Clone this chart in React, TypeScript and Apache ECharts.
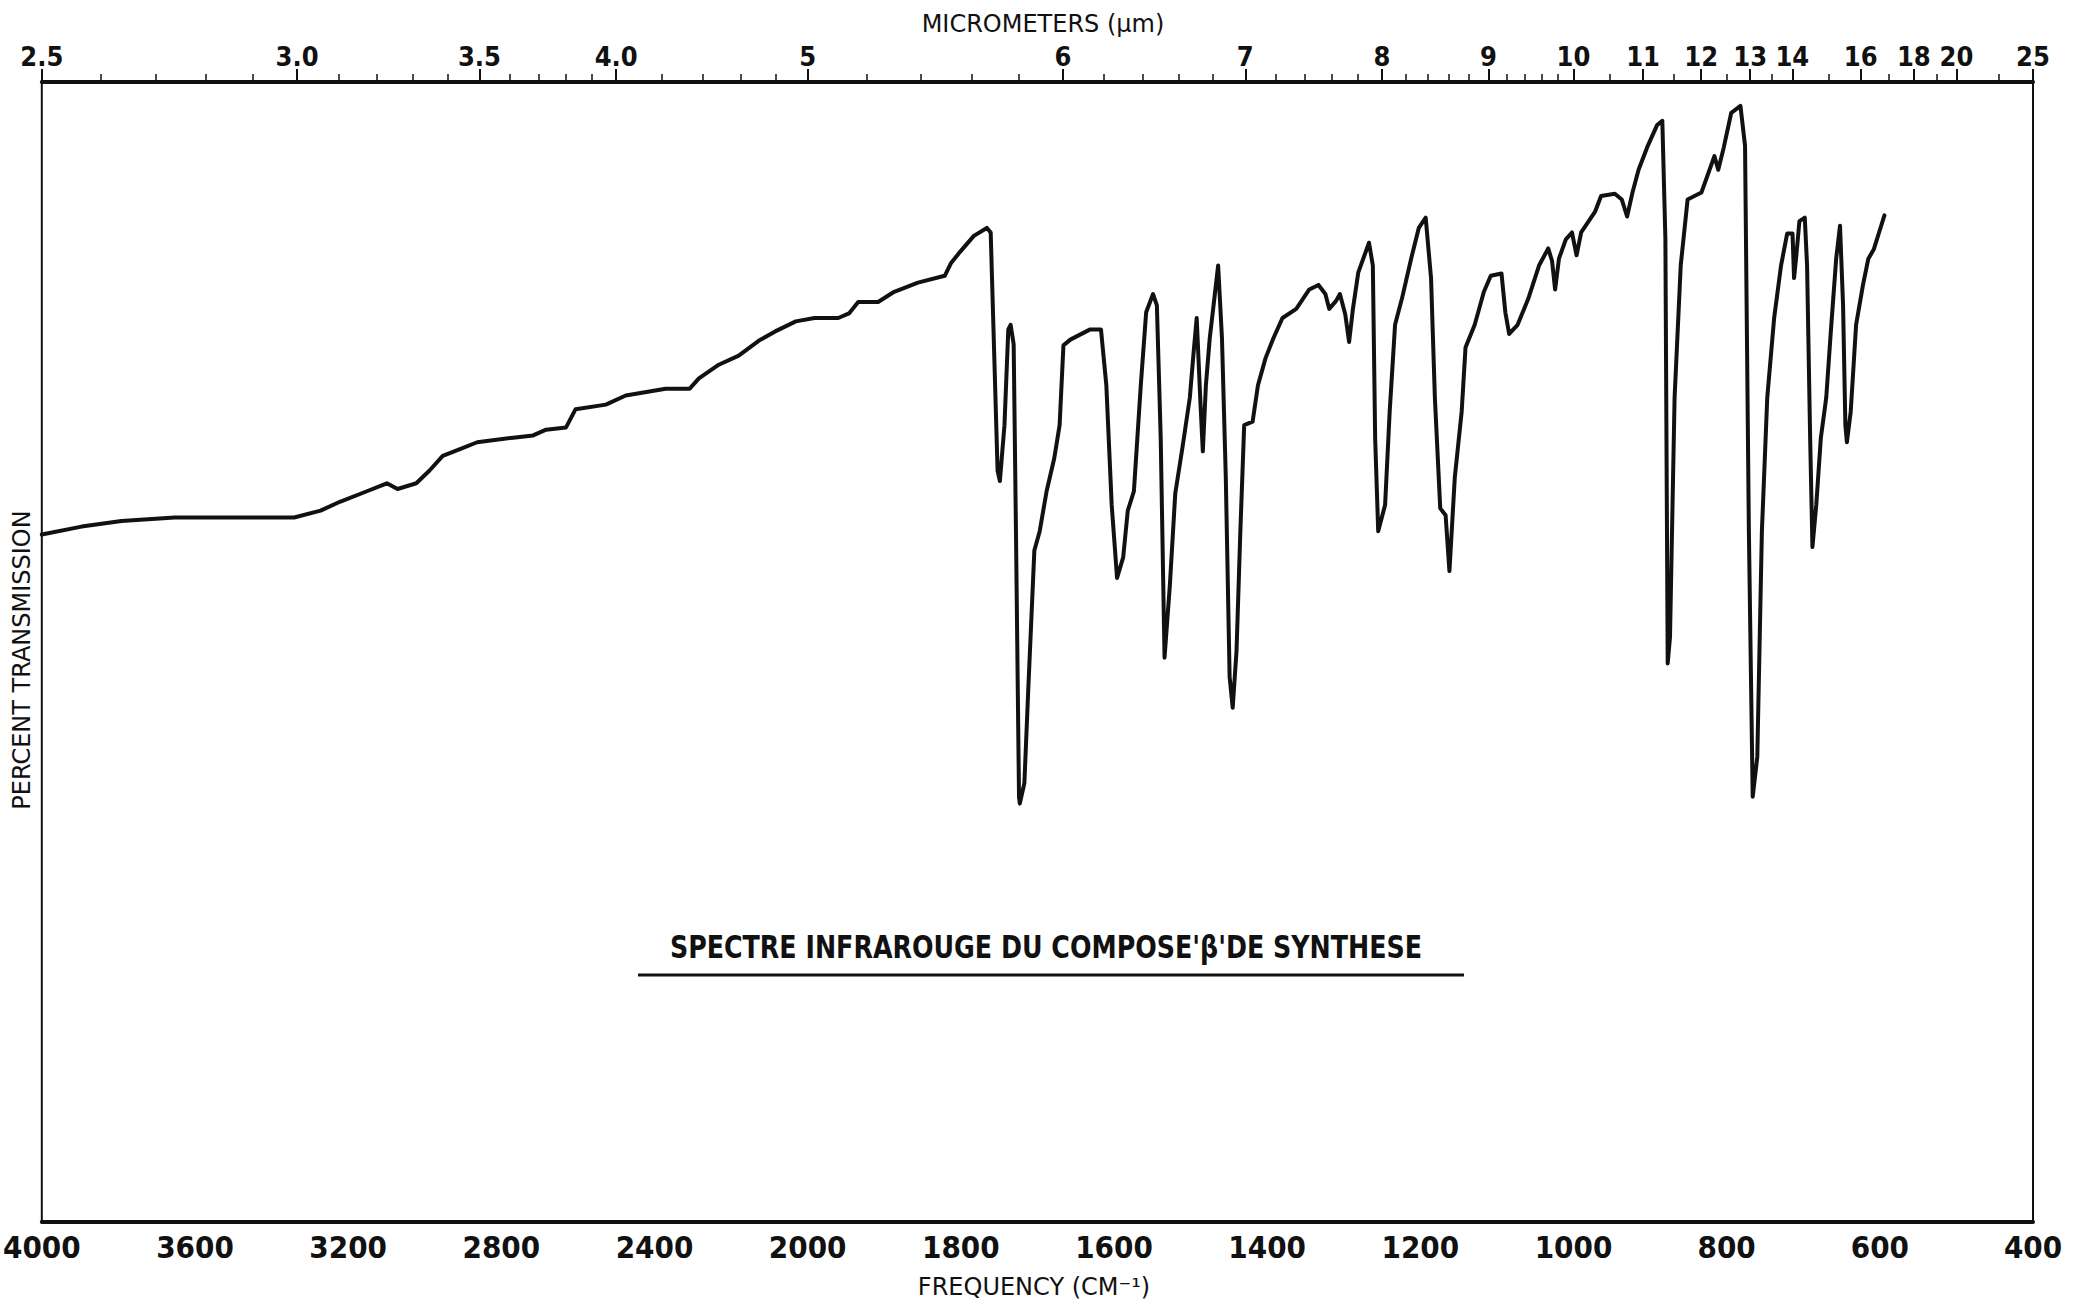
import React, { useEffect, useRef } from "react";
import * as echarts from "echarts";

// Spectrum: wavenumber (cm-1) and percent transmission
const WAVENUMBERS = [
  4000, 3896, 3792, 3653, 3480, 3341, 3272, 3220, 3151, 3099, 3071, 3022, 2988, 2953, 2908, 2863,
  2769, 2717, 2683, 2631, 2606, 2527, 2475, 2371, 2308, 2284, 2232, 2180, 2128, 2086, 2031, 1991,
  1960, 1946, 1934, 1908, 1887, 1856, 1821, 1813, 1801, 1783, 1766, 1761, 1752, 1749, 1743, 1738,
  1735, 1731, 1728, 1724, 1723, 1717, 1712, 1704, 1697, 1688, 1678, 1671, 1666, 1657, 1631, 1617,
  1610, 1603, 1596, 1588, 1582, 1574, 1565, 1558, 1549, 1544, 1539, 1534, 1527, 1520, 1510, 1501,
  1496, 1492, 1487, 1484, 1480, 1475, 1470, 1464, 1459, 1454, 1449, 1445, 1440, 1435, 1430, 1419,
  1412, 1402, 1392, 1380, 1362, 1345, 1333, 1324, 1319, 1310, 1305, 1298, 1293, 1288, 1281, 1267,
  1262, 1259, 1255, 1246, 1240, 1233, 1224, 1212, 1202, 1193, 1186, 1181, 1174, 1167, 1162, 1155,
  1146, 1141, 1129, 1117, 1108, 1094, 1089, 1084, 1073, 1059, 1045, 1033, 1028, 1024, 1019, 1010,
  1002, 996, 990, 972, 964, 946, 937, 930, 923, 915, 903, 891, 884, 880, 877, 874,
  868, 860, 851, 833, 825, 816, 811, 804, 794, 782, 776, 771, 766, 760, 754, 747,
  738, 729, 721, 714, 712, 709, 705, 698, 695, 691, 688, 683, 677, 670, 664, 657,
  652, 648, 645, 643, 638, 631, 622, 615, 608, 601, 594,
];
const TRANSMISSION = [
  60.3, 61.0, 61.5, 61.8, 61.8, 61.8, 62.4, 63.2, 64.1, 64.8, 64.3, 64.8, 65.9, 67.2, 67.8, 68.4,
  68.8, 69.0, 69.5, 69.7, 71.3, 71.7, 72.5, 73.1, 73.1, 74.0, 75.2, 76.0, 77.3, 78.1, 79.0, 79.3,
  79.3, 79.7, 80.7, 80.7, 81.6, 82.4, 83.0, 84.1, 85.1, 86.5, 87.2, 86.8, 65.9, 65.0, 69.9, 78.3,
  78.7, 77.0, 60.6, 37.3, 36.7, 38.5, 46.6, 58.9, 60.6, 64.1, 67.0, 69.9, 76.9, 77.4, 78.3, 78.3,
  73.4, 62.9, 56.5, 58.3, 62.4, 64.1, 73.4, 79.8, 81.4, 80.4, 68.8, 49.5, 55.9, 63.9, 68.2, 72.3,
  76.3, 79.3, 71.7, 67.6, 73.4, 77.5, 80.4, 83.9, 77.5, 65.3, 47.8, 45.1, 50.1, 60.6, 69.9, 70.2,
  73.4, 75.8, 77.5, 79.3, 80.1, 81.8, 82.2, 81.4, 80.1, 80.8, 81.4, 79.6, 77.2, 80.1, 83.3, 85.9,
  83.9, 68.8, 60.6, 62.9, 71.1, 78.7, 81.0, 84.5, 87.2, 88.1, 82.8, 72.3, 62.6, 62.0, 57.1, 65.3,
  71.1, 76.7, 78.7, 81.6, 83.0, 83.2, 79.8, 77.9, 78.7, 81.0, 83.9, 85.4, 84.3, 81.8, 84.5, 86.2,
  86.8, 84.8, 86.8, 88.6, 90.0, 90.2, 89.7, 88.2, 90.3, 92.3, 94.4, 96.2, 96.6, 86.2, 49.0, 51.3,
  72.3, 83.9, 89.7, 90.3, 91.8, 93.5, 92.3, 94.2, 97.3, 97.9, 94.4, 60.6, 37.3, 40.8, 60.6, 72.3,
  79.3, 83.9, 86.7, 86.7, 82.8, 84.8, 87.8, 88.1, 83.9, 68.8, 59.2, 62.9, 68.8, 72.3, 78.1, 84.5,
  87.4, 80.4, 69.9, 68.4, 71.1, 78.7, 82.2, 84.5, 85.3, 86.8, 88.3,
];

// Bottom axis tick labels (cm-1) and top axis (micrometers)
const FREQ_TICKS = [4000, 3600, 3200, 2800, 2400, 2000, 1800, 1600, 1400, 1200, 1000, 800, 600, 400];
const MICRON_LABELS = [2.5, 3.0, 3.5, 4.0, 5, 6, 7, 8, 9, 10, 11, 12, 13, 14, 16, 18, 20, 25];
const MICRON_MINOR = [
  2.6, 2.7, 2.8, 2.9, 3.1, 3.2, 3.3, 3.4, 3.6, 3.7, 3.8, 3.9, 4.2, 4.4, 4.6, 4.8, 5.2, 5.4, 5.6, 5.8,
  6.2, 6.4, 6.6, 6.8, 7.2, 7.4, 7.6, 7.8, 8.2, 8.4, 8.6, 8.8, 9.2, 9.4, 9.6, 9.8, 10.5, 11.5, 12.5,
  13.5, 15, 17, 19, 22.5,
];

const TITLE = "SPECTRE INFRAROUGE DU COMPOSE'β'DE SYNTHESE";

// Chart paper scale: 4000-2000 cm-1 at one scale, 2000-400 at double scale
const wnToU = (wn: number) => (wn >= 2000 ? 4000 - wn : 2000 + 2 * (2000 - wn));
const uToWn = (u: number) => (u <= 2000 ? 4000 - u : 2000 - (u - 2000) / 2);

export default function App() {
  const ref = useRef<HTMLDivElement>(null);
  useEffect(() => {
    if (!ref.current) return;
    const chart = echarts.init(ref.current, undefined, { renderer: "svg" });
    const data = WAVENUMBERS.map((wn, i) => [wnToU(wn), TRANSMISSION[i]]);
    const majorU = MICRON_LABELS.map((m) => wnToU(10000 / m));
    const minorU = MICRON_MINOR.map((m) => wnToU(10000 / m));
    const freqSet = new Set(FREQ_TICKS);
    const ink = "#111";
    const boldFont = "'DejaVu Sans Condensed', 'DejaVu Sans', sans-serif";
    const thinFont = "'DejaVu Sans', sans-serif";
    chart.setOption({
      animation: false,
      backgroundColor: "#fff",
      grid: {
        left: 40,
        right: 50,
        top: 82,
        bottom: 82,
        show: true,
        borderColor: ink,
        borderWidth: 2,
      },
      xAxis: [
        {
          type: "value",
          position: "bottom",
          min: 0,
          max: 5200,
          interval: 400,
          axisLine: { show: true, lineStyle: { color: ink, width: 4 } },
          axisTick: { show: false },
          splitLine: { show: false },
          axisLabel: {
            color: ink,
            fontSize: 31,
            fontWeight: "bold",
            fontFamily: boldFont,
            margin: 9,
            showMinLabel: true,
            showMaxLabel: true,
            formatter: (u: number) => {
              const wn = Math.round(uToWn(u));
              return freqSet.has(wn) ? String(wn) : "";
            },
          },
        },
        {
          type: "value",
          position: "top",
          min: 0,
          max: 5200,
          axisLine: { show: true, lineStyle: { color: ink, width: 4 } },
          axisTick: { show: true, length: 13, lineStyle: { color: ink, width: 2 }, customValues: majorU },
          splitLine: { show: false },
          axisLabel: {
            customValues: majorU,
            color: ink,
            fontSize: 27,
            fontWeight: "bold",
            fontFamily: boldFont,
            margin: 12,
            formatter: (u: number) => {
              const m = 10000 / uToWn(u);
              return m < 4.5 ? m.toFixed(1) : String(Math.round(m));
            },
          },
        },
        {
          type: "value",
          position: "top",
          min: 0,
          max: 5200,
          axisLine: { show: false },
          axisTick: { show: true, length: 8, lineStyle: { color: ink, width: 1.5 }, customValues: minorU },
          axisLabel: { show: false },
          splitLine: { show: false },
        },
      ],
      yAxis: { type: "value", min: 0, max: 100, show: false },
      series: [
        {
          type: "line",
          xAxisIndex: 0,
          yAxisIndex: 0,
          data,
          showSymbol: false,
          symbol: "none",
          lineStyle: { color: ink, width: 4, join: "round", cap: "round" },
          silent: true,
        },
      ],
      graphic: [
        {
          type: "text",
          x: 1043,
          y: 24,
          style: {
            text: "MICROMETERS (µm)",
            fontSize: 24,
            fontFamily: thinFont,
            fill: ink,
            align: "center",
            verticalAlign: "middle",
          },
        },
        {
          type: "text",
          x: 1034,
          y: 1287,
          style: {
            text: "FREQUENCY (CM⁻¹)",
            fontSize: 24,
            fontFamily: thinFont,
            fill: ink,
            align: "center",
            verticalAlign: "middle",
          },
        },
        {
          type: "text",
          x: 22,
          y: 660,
          rotation: Math.PI / 2,
          style: {
            text: "PERCENT TRANSMISSION",
            fontSize: 24,
            fontFamily: thinFont,
            fill: ink,
            align: "center",
            verticalAlign: "middle",
          },
        },
        {
          type: "text",
          x: 1046,
          y: 947,
          scaleX: 0.88,
          style: {
            text: TITLE,
            fontSize: 32,
            fontWeight: "bold",
            fontFamily: boldFont,
            fill: ink,
            align: "center",
            verticalAlign: "middle",
          },
        },
        {
          type: "line",
          shape: { x1: 638, y1: 975, x2: 1464, y2: 975 },
          style: { stroke: ink, lineWidth: 3 },
        },
      ],
    });
    return () => chart.dispose();
  }, []);
  return (
    <div
      ref={ref}
      style={{ position: "absolute", left: 0, top: 0, width: 2083, height: 1304, background: "#fff" }}
    />
  );
}
